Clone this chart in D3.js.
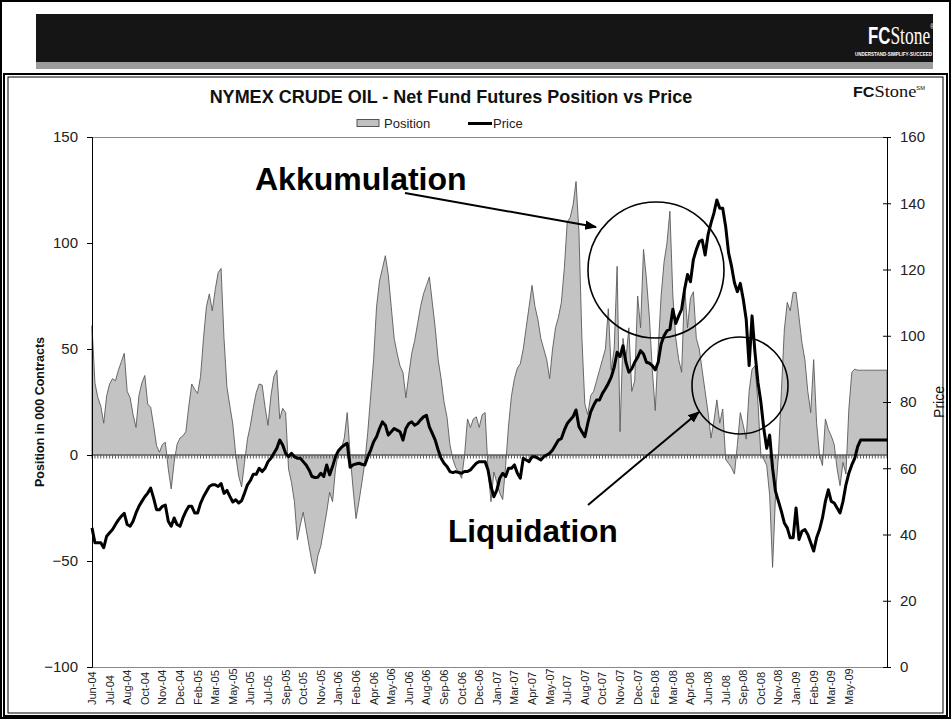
<!DOCTYPE html>
<html><head><meta charset="utf-8">
<script src="https://cdn.jsdelivr.net/npm/d3@7/dist/d3.min.js"></script>
<style>
html,body{margin:0;padding:0;background:#fff;}
svg{display:block;font-family:"Liberation Sans",Arial,sans-serif;}
</style></head>
<body><svg id="c" width="952" height="720"></svg>
<script>
// ---- data (weekly, Jun-2004 .. Aug-2009) ----
const position = [
61,34,27,23,15,28,33.5,36,35,40,
44,48,30,27,19,13,28,34,37.5,24,
22.5,14,4.4,1.3,5,6,-6.6,-16,-3.5,5,
8,9,11,23,33.5,31,29,37,55,70,
76,68,78,86,88,55,32,23,14.6,0,
-10,-15,-3.5,7.5,14,22.5,29.5,33.5,33,22.5,
14,28,37,40,17,22,20,-6.6,-13,-22,
-40,-33,-27,-35,-43,-50.6,-56,-47.5,-43,-35,
-27,-17.6,-22,-6.6,1.3,3,8,20,0,-16,
-30,-22,-13,-3.5,10.7,28,45,70,82,88,
94,85,70,55,48,42,39,27,38,48,
54,62,70,76,80,84,72,60,45,36,
25,18,5,-2,-6,-8,-11,0,17,13,
17,18,13,19,20,-7,-22,-8,-13,-18,
-21,-5,14,28,36,41,43,50,60,70,
80,70,64,55,50,45,36,50,60,65,
72,88,110,112,118,129,105,55,24,19,
28,30,35,40,45,50,69,40,50,89,
11,55,45,60,30,35,75,60,97,83,
65,40,21,50,75,91,100,115,75,55,
45,39,80,60,74,77,55,50,40,30,
20,8,16,26,15,21.7,-2,-4,-6,-9,
5,20,14,7.5,30,40.5,42,25,0,-2,
-5,-19,-53,-19,0,30,59,72,68,76.7,
76.7,65,53,45,30,20,45,15,0,-5,
17,12,9,5,-6.6,-14.5,-3.5,-9,21.7,39,
40.5,40,40,40,40,40,40,40,40,40,
40,40
];
const price = [
42,37.5,37.5,37.5,36,39.5,40.5,41.5,43,44.4,
45.5,46.4,43,42.5,44,46.5,48.5,50,51.4,52.5,
54,51,47.5,47.5,48.5,48.9,44,42.5,45,43,
42.5,45,47,48.5,48.5,46.5,46.5,49.4,51.4,53,
54.5,55,55,54.5,55.4,52.4,53.3,51.5,49.8,50.5,
49.5,50.2,52.5,55,56.3,58.2,58.2,60,59,60,
62,63,64.5,66,68.5,67,64.5,63.5,64.5,63.5,
63,63,62,61,59.5,57.5,57.2,57.3,58.5,57.5,
61,58,60.5,63.5,65.3,66.3,67,67.5,60.3,61,
61.3,61.5,61.2,61,63.5,65.5,68,69.5,72,74,
73,70,71,72,71.5,71,68.5,72,73.5,74,
73,73.5,74.6,75.5,76,72.5,70.5,68.5,65.5,63,
61.5,60.5,59,58.7,59,58.7,58.5,59,59,59.5,
60.5,61.5,62,62,62,59.5,54.5,51.4,53.4,57,
58.5,57.5,60,60,61,58.5,57,63,62.5,62,
63.5,63.5,63,62.5,63.5,64,64.5,65.5,67,68.5,
69,71.5,73.5,74.6,75.6,77.6,72.5,71,69.5,73.6,
77,79,80.6,80.6,82.6,84,85.6,87.5,90.5,95,
93.7,97,92,89,90,92,93.5,95.5,94.5,92,
91.7,91,89.7,92,97.5,100,101.5,102,108,103.7,
106,108,114,118.5,116.3,123,126,128.4,128.9,124.4,
130.5,134,137,141,138.5,138.5,133,125,121,116,
113.3,115.8,111,105,91,106,95,86,80,72,
66,70,60,53,50,47,43.5,42,39,39,
48,38.5,41,41.5,40,37.5,35,39,41.5,45,
50,53.5,50,49.5,48,46.5,50,55,58.5,61,
63,66.5,68.5,68.5,68.5,68.5,68.5,68.5,68.5,68.5,
68.5,68.5
];
const tickLabels = ["Jun-04","Jul-04","Aug-04","Oct-04","Nov-04","Dec-04","Feb-05","Mar-05","May-05","Jun-05","Jul-05","Sep-05","Oct-05","Nov-05","Jan-06","Feb-06","Apr-06","May-06","Jun-06","Aug-06","Sep-06","Oct-06","Dec-06","Jan-07","Mar-07","Apr-07","May-07","Jul-07","Aug-07","Oct-07","Nov-07","Dec-07","Feb-08","Mar-08","Apr-08","Jun-08","Jul-08","Sep-08","Oct-08","Nov-08","Jan-09","Feb-09","Mar-09","May-09"];
const labelEvery = 6;
const leftTicks = [-100,-50,0,50,100,150];
const rightTicks = [0,20,40,60,80,100,120,140,160];

// ---- layout ----
const L = 92, R = 887, T = 137, B = 667;
const svg = d3.select("#c");
const N = position.length;
const x = d3.scaleLinear().domain([0, N - 1]).range([L, R]);
const yL = d3.scaleLinear().domain([-100, 150]).range([B, T]);
const yR = d3.scaleLinear().domain([0, 160]).range([B, T]);

// page frame
svg.append("rect").attr("x",1).attr("y",1).attr("width",949).attr("height",717)
  .attr("fill","none").attr("stroke","#000").attr("stroke-width",2);
// header band
svg.append("rect").attr("x",36).attr("y",14).attr("width",897).attr("height",48).attr("fill","#151515");
svg.append("rect").attr("x",36).attr("y",62).attr("width",897).attr("height",7).attr("fill","#9b9b9b");
const big = svg.append("text").attr("transform","translate(868,44) scale(0.7,1)").attr("fill","#fff");
big.append("tspan").attr("font-family","'Liberation Sans',Arial,sans-serif").attr("font-weight","bold").attr("font-size",24).text("FC");
big.append("tspan").attr("font-family","'Liberation Serif',serif").attr("font-size",25).text("Stone");
big.append("tspan").attr("font-size",7).attr("dy",-15).text("®");
svg.append("text").attr("x",855).attr("y",56).attr("fill","#fff")
  .attr("font-size",5).attr("font-weight","bold")
  .attr("textLength",77).attr("lengthAdjust","spacingAndGlyphs").text("UNDERSTAND·SIMPLIFY·SUCCEED");
// chart frame (double line)
svg.append("rect").attr("x",4).attr("y",74).attr("width",943).attr("height",642)
  .attr("fill","none").attr("stroke","#000").attr("stroke-width",2);
svg.append("rect").attr("x",8).attr("y",77).attr("width",935).attr("height",636)
  .attr("fill","none").attr("stroke","#000").attr("stroke-width",1);

// title
svg.append("text").attr("x",451).attr("y",103).attr("text-anchor","middle")
  .attr("font-size",18).attr("font-weight","bold").attr("fill","#111")
  .text("NYMEX CRUDE OIL - Net Fund Futures Position vs Price");
// small logo
const sm = svg.append("text").attr("transform","translate(853,97) scale(1.15,1)").attr("fill","#111");
sm.append("tspan").attr("font-family","'Liberation Sans',Arial,sans-serif").attr("font-weight","bold").attr("font-size",14).text("FC");
sm.append("tspan").attr("font-family","'Liberation Serif',serif").attr("font-size",16).text("Stone");
sm.append("tspan").attr("font-size",5).attr("dy",-7).text("SM");

// legend
svg.append("rect").attr("x",357).attr("y",119.5).attr("width",22).attr("height",7)
  .attr("fill","#c0c0c0").attr("stroke","#555").attr("stroke-width",1);
svg.append("text").attr("x",384).attr("y",128).attr("font-size",13).attr("fill","#222").text("Position");
svg.append("line").attr("x1",468).attr("x2",492).attr("y1",123.5).attr("y2",123.5).attr("stroke","#000").attr("stroke-width",3);
svg.append("text").attr("x",493).attr("y",128).attr("font-size",13).attr("fill","#222").text("Price");

// plot borders
svg.append("line").attr("x1",L).attr("x2",R).attr("y1",T+0.5).attr("y2",T+0.5).attr("stroke","#888");
svg.append("line").attr("x1",L).attr("x2",R).attr("y1",B+0.5).attr("y2",B+0.5).attr("stroke","#888");

// area
const area = d3.area().x((d,i)=>x(i)).y0(yL(0)).y1(d=>yL(d));
svg.append("path").datum(position).attr("d",area).attr("fill","#c3c3c3")
  .attr("stroke","#5a5a5a").attr("stroke-width",0.9).attr("stroke-linejoin","miter");

// zero category axis with weekly ticks
const zx = svg.append("g").attr("transform",`translate(0,${yL(0)})`);
zx.append("line").attr("x1",L).attr("x2",R).attr("stroke","#555").attr("stroke-width",1.2);
zx.selectAll("line.t").data(d3.range(N)).join("line").attr("class","t")
  .attr("x1",i=>x(i)).attr("x2",i=>x(i)).attr("y1",0).attr("y2",3.5)
  .attr("stroke","#555").attr("stroke-width",1);

// price line
const line = d3.line().x((d,i)=>x(i)).y(d=>yR(d));
svg.append("path").datum(price).attr("d",line).attr("fill","none")
  .attr("stroke","#000").attr("stroke-width",3).attr("stroke-linejoin","round");

// left axis
const gl = svg.append("g").attr("transform",`translate(${L},0)`)
  .call(d3.axisLeft(yL).tickValues(leftTicks).tickSize(5).tickPadding(9));
gl.select(".domain").attr("stroke","#000");
gl.selectAll(".tick line").attr("stroke","#000");
gl.selectAll("text").attr("font-size",15).attr("fill","#222").attr("font-family","'Liberation Sans',Arial,sans-serif");

// right axis
const gr = svg.append("g").attr("transform",`translate(${R},0)`)
  .call(d3.axisRight(yR).tickValues(rightTicks).tickSize(4).tickPadding(9));
gr.select(".domain").attr("stroke","#000");
gr.selectAll(".tick line").attr("stroke","#000").attr("x1",-4);
gr.selectAll("text").attr("font-size",15).attr("fill","#222").attr("font-family","'Liberation Sans',Arial,sans-serif");

// x labels
svg.append("g").selectAll("text").data(tickLabels).join("text")
  .attr("transform",(d,k)=>`translate(${x(k*labelEvery)+4},705) rotate(-90)`)
  .attr("font-size",11).attr("fill","#222").text(d=>d);

// axis titles
svg.append("text").attr("transform","translate(44,412) rotate(-90)").attr("text-anchor","middle")
  .attr("font-size",12.5).attr("font-weight","bold").attr("fill","#111").text("Position in 000 Contracts");
svg.append("text").attr("transform","translate(944,402) rotate(-90)").attr("text-anchor","middle")
  .attr("font-size",14).attr("fill","#111").text("Price");

// annotations
svg.append("defs").append("marker").attr("id","ah").attr("viewBox","0 0 10 10").attr("refX",9).attr("refY",5)
  .attr("markerWidth",6).attr("markerHeight",6).attr("orient","auto")
  .append("path").attr("d","M0,1 L10,5 L0,9 z").attr("fill","#000");
svg.append("ellipse").attr("cx",656).attr("cy",270).attr("rx",68).attr("ry",68).attr("fill","none").attr("stroke","#000").attr("stroke-width",1.6);
svg.append("ellipse").attr("cx",740).attr("cy",385.5).attr("rx",48).attr("ry",48.5).attr("fill","none").attr("stroke","#000").attr("stroke-width",1.6);
svg.append("line").attr("x1",405).attr("y1",193).attr("x2",596).attr("y2",227).attr("stroke","#000").attr("stroke-width",2).attr("marker-end","url(#ah)");
svg.append("line").attr("x1",588).attr("y1",505).attr("x2",699).attr("y2",412).attr("stroke","#000").attr("stroke-width",2).attr("marker-end","url(#ah)");
svg.append("text").attr("x",255).attr("y",190).attr("font-size",32).attr("font-weight","bold").attr("fill","#000").text("Akkumulation");
svg.append("text").attr("x",448).attr("y",542).attr("font-size",31.5).attr("font-weight","bold").attr("fill","#000").text("Liquidation");
</script></body></html>
